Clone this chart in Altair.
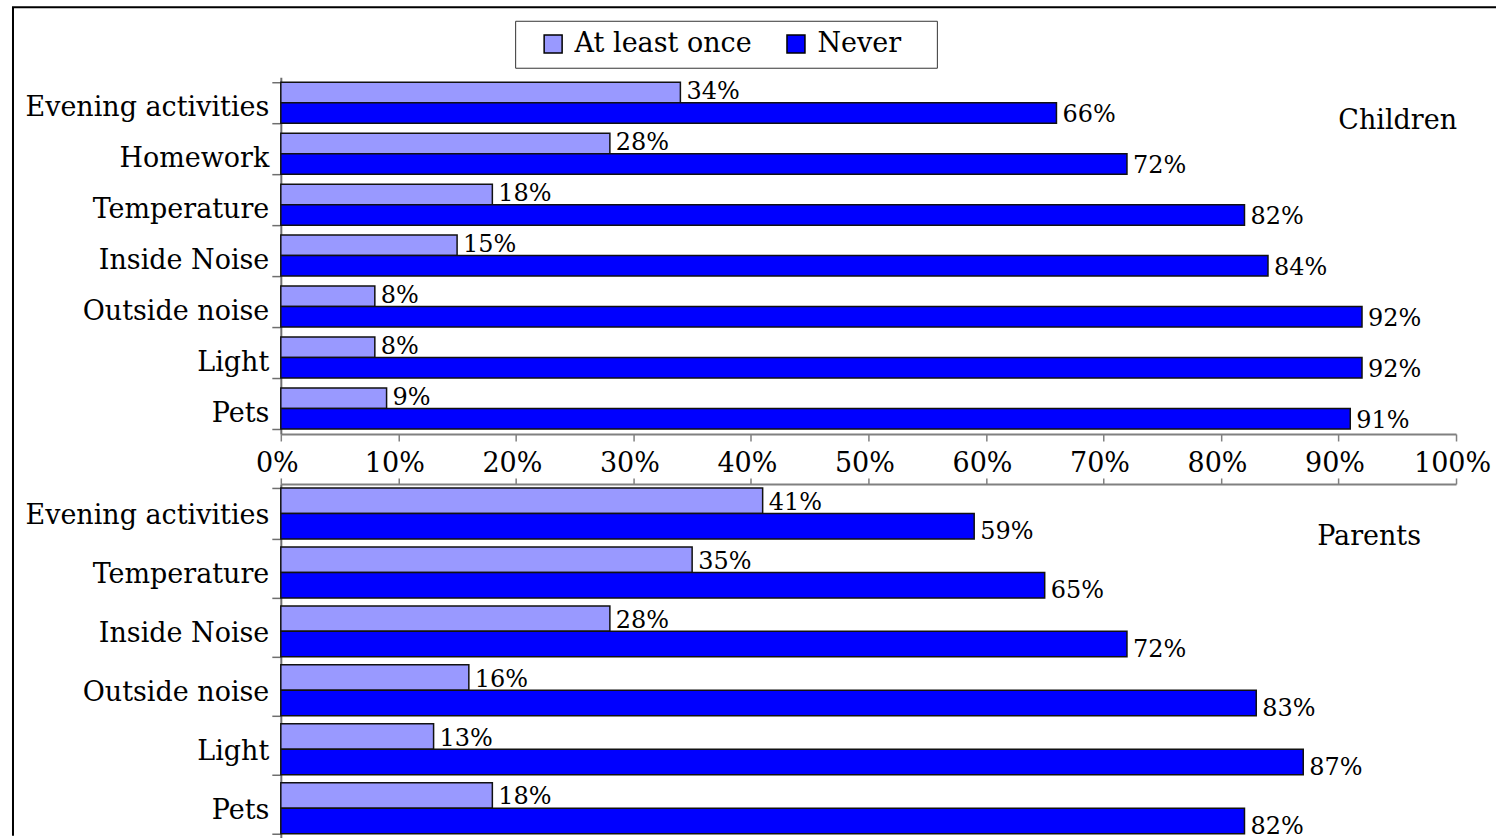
import altair as alt
import pandas as pd

FONT = "DejaVu Serif"

# Series and colours
series_names = ["At least once", "Never"]
series_colors = ["#9999FF", "#0000FF"]

# Children survey
child_items = ["Evening activities", "Homework", "Temperature", "Inside Noise",
               "Outside noise", "Light", "Pets"]
child_once = [34, 28, 18, 15, 8, 8, 9]
child_never = [66, 72, 82, 84, 92, 92, 91]

# Parents survey
parent_items = ["Evening activities", "Temperature", "Inside Noise",
                "Outside noise", "Light", "Pets"]
parent_once = [41, 35, 28, 16, 13, 18]
parent_never = [59, 65, 72, 83, 87, 82]

# Percent axis ticks
tick_values = [0, 0.1, 0.2, 0.3, 0.4, 0.5, 0.6, 0.7, 0.8, 0.9, 1.0]


def long_table(items, once, never):
    rows = []
    for item, a, b in zip(items, once, never):
        rows.append({"item": item, "series": series_names[0], "share": a / 100})
        rows.append({"item": item, "series": series_names[1], "share": b / 100})
    return pd.DataFrame(rows)


def panel(df, items, height, pad_inner, x_axis, y_label_shift, dy_once, dy_never,
          legend, tag, tag_x, tag_y, extras=()):
    base = alt.Chart(df).encode(
        y=alt.Y("item:N", sort=items,
                scale=alt.Scale(paddingInner=pad_inner, paddingOuter=pad_inner / 2),
                axis=alt.Axis(title=None, tickBand="extent", tickSize=9,
                              tickColor="#6e6e6e", tickWidth=1.5,
                              domainColor="#6e6e6e", domainWidth=2,
                              labelFont=FONT, labelFontSize=27, labelColor="black",
                              labelPadding=3, labelOffset=y_label_shift,
                              labelLimit=400)),
        yOffset=alt.YOffset("series:N", sort=series_names,
                            scale=alt.Scale(paddingInner=0, paddingOuter=0)),
    )
    xenc = alt.X("share:Q", stack=None,
                 scale=alt.Scale(domain=[0, 1], nice=False), axis=x_axis)
    bars = base.mark_bar(stroke="#111111", strokeWidth=1.5).encode(
        x=xenc,
        color=alt.Color("series:N",
                        scale=alt.Scale(domain=series_names, range=series_colors),
                        legend=legend),
    )
    text_once = base.transform_filter(
        alt.datum.series == series_names[0]
    ).mark_text(align="left", baseline="middle", dx=6, dy=dy_once,
                font=FONT, fontSize=24, color="black").encode(
        x=alt.X("share:Q", stack=None),
        text=alt.Text("share:Q", format=".0%"),
    )
    text_never = base.transform_filter(
        alt.datum.series == series_names[1]
    ).mark_text(align="left", baseline="middle", dx=6, dy=dy_never,
                font=FONT, fontSize=24, color="black").encode(
        x=alt.X("share:Q", stack=None),
        text=alt.Text("share:Q", format=".0%"),
    )
    tag_mark = alt.Chart(alt.Data(values=[{"label": tag}])).mark_text(
        align="right", baseline="middle", font=FONT, fontSize=27, color="black"
    ).encode(x=alt.value(tag_x), y=alt.value(tag_y), text="label:N")

    layers = [bars, text_once, text_never, tag_mark, *extras]
    return alt.layer(*layers).properties(width=1176, height=height)


top_axis = alt.Axis(orient="bottom", format=".0%", values=tick_values, title=None,
                    tickSize=7, tickColor="#808080", tickWidth=1.5,
                    domainColor="#808080", domainWidth=2, grid=False,
                    labelFont=FONT, labelFontSize=27, labelColor="black",
                    labelPadding=10, labelFlush=False, labelOverlap=False,
                    labelOffset=-4)
bottom_axis = alt.Axis(orient="top", values=tick_values, title=None, labels=False,
                       tickSize=6, tickColor="#808080", tickWidth=1.5,
                       domainColor="#808080", domainWidth=2, grid=False)

legend = alt.Legend(title=None, orient="none", legendX=259, legendY=-47,
                    direction="horizontal", symbolType="square", symbolSize=324,
                    symbolStrokeColor="black", symbolStrokeWidth=1.5,
                    labelFont=FONT, labelFontSize=27, labelColor="black",
                    labelLimit=400, labelOffset=8, columnPadding=30, padding=0)

one = alt.Data(values=[{}])
# chart frame (top and left edges)
frame_top = alt.Chart(one).mark_rule(color="black", strokeWidth=2).encode(
    x=alt.value(-269), x2=alt.value(1216), y=alt.value(-70))
frame_left = alt.Chart(one).mark_rule(color="black", strokeWidth=2).encode(
    x=alt.value(-268), y=alt.value(-70), y2=alt.value(759))
# legend frame
legend_box = alt.Chart(one).mark_rect(fill="white", stroke="#333333",
                                      strokeWidth=1).encode(
    x=alt.value(235), x2=alt.value(657), y=alt.value(-56), y2=alt.value(-9))

children = panel(long_table(child_items, child_once, child_never), child_items,
                 357, 10 / 51, top_axis, 5, 0, 2, legend, "Children", 1177, 44,
                 extras=(frame_top, frame_left, legend_box))
parents = panel(long_table(parent_items, parent_once, parent_never), parent_items,
                354, 8 / 59, bottom_axis, 2, 2, 6, None, "Parents", 1141, 53)

chart = alt.vconcat(children, parents, spacing=50, bounds="flush").resolve_scale(
    x="independent", y="independent", yOffset="independent", color="shared"
).properties(
    padding={"left": 11, "top": 6, "right": 0, "bottom": 0},
    autosize=alt.AutoSizeParams(type="pad"),
    background="white",
).configure_view(stroke=None)

chart.save("out.html", embed_options={"renderer": "svg", "actions": False})
